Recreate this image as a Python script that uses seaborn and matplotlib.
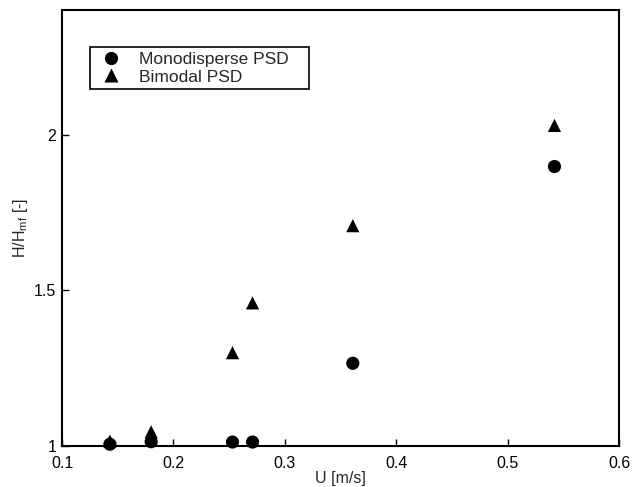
import pandas as pd
import matplotlib
matplotlib.use('Agg')
import matplotlib.pyplot as plt
import seaborn as sns

# superficial gas velocity U [m/s] and bed expansion H/Hmf [-]
u_mono = [0.143, 0.180, 0.253, 0.271, 0.361, 0.542]
h_mono = [1.006, 1.014, 1.013, 1.013, 1.266, 1.898]
u_bi = [0.143, 0.180, 0.253, 0.271, 0.361, 0.542]
h_bi = [1.016, 1.046, 1.300, 1.460, 1.708, 2.030]
series = ['Monodisperse PSD', 'Bimodal PSD']
x_ticks = [0.1, 0.2, 0.3, 0.4, 0.5, 0.6]
y_ticks = [1, 1.5, 2]

df = pd.concat([
    pd.DataFrame({'U': u_mono, 'H': h_mono, 'psd': series[0]}),
    pd.DataFrame({'U': u_bi, 'H': h_bi, 'psd': series[1]}),
])

sns.set_theme(style='white')
plt.rcParams['font.family'] = ['Liberation Sans', 'DejaVu Sans']
plt.rcParams['mathtext.fontset'] = 'custom'
plt.rcParams['mathtext.rm'] = 'Liberation Sans'

fig = plt.figure(figsize=(6.33, 4.87), dpi=100)
ax = fig.add_axes([0.098, 0.084, 0.88, 0.895])

sns.scatterplot(data=df, x='U', y='H', style='psd', markers=['o', '^'],
                hue='psd', palette=['black', 'black'], s=90,
                edgecolor='none', clip_on=False, zorder=3, ax=ax)

ax.set_xlim(0.1, 0.6)
ax.set_ylim(1, 2.4)
ax.set_xticks(x_ticks)
ax.set_xticklabels([f'{t:g}' for t in x_ticks])
ax.set_yticks(y_ticks)
ax.set_yticklabels([f'{t:g}' for t in y_ticks])
ax.tick_params(direction='in', length=5, width=1, colors='black',
               labelsize=11.5, bottom=True, left=True)
ax.tick_params(axis='x', pad=7)
ax.tick_params(axis='y', pad=4)
for sp in ax.spines.values():
    sp.set_color('black')
    sp.set_linewidth(1.5)

ax.set_xlabel('U [m/s]', fontsize=11.5, labelpad=0)
ax.set_ylabel(r'H/H$_\mathregular{mf}$ [-]', fontsize=11.5, labelpad=3)

leg = ax.legend(loc='upper left', bbox_to_anchor=(0.05, 0.815, 0.393, 0.1),
                mode='expand', borderaxespad=0, fancybox=False, framealpha=1,
                fontsize=12.5, handletextpad=0.7, borderpad=0.25,
                labelspacing=0.15, handlelength=1.9)
leg.get_frame().set_edgecolor('black')
leg.get_frame().set_linewidth(1.2)

fig.savefig('out.png', dpi=100)
